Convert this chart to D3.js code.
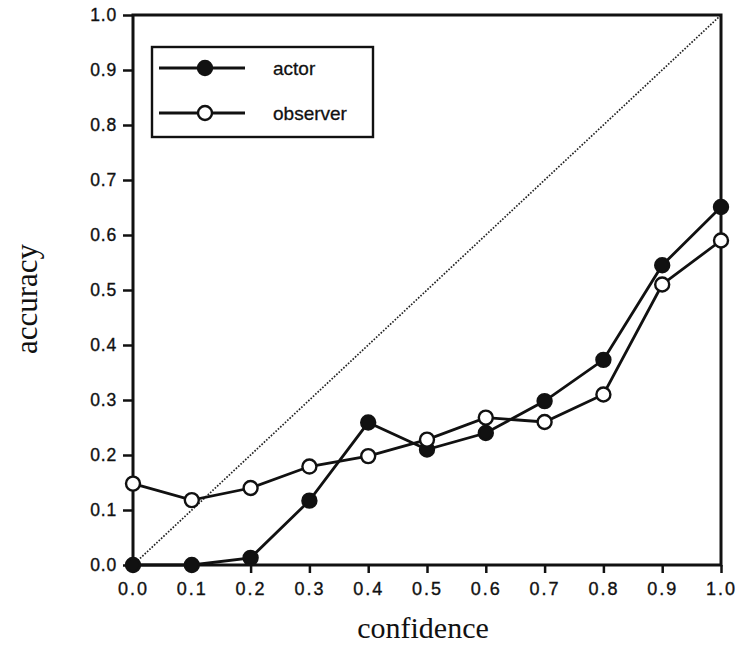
<!DOCTYPE html>
<html>
<head>
<meta charset="utf-8">
<script src="https://cdn.jsdelivr.net/npm/d3@7"></script>
<style>
  body { margin: 0; background: #fff; }
  svg { display: block; }
  .tick text { font-family: "Liberation Sans", Arial, sans-serif; fill: #111; stroke: #111; stroke-width: 0.35px; }
  .title { font-family: "Liberation Serif", "Times New Roman", serif; fill: #111; }
</style>
</head>
<body>
<div id="chart"></div>
<script>
// confidence bins and accuracy per group
var confidence = [0.0, 0.1, 0.2, 0.3, 0.4, 0.5, 0.6, 0.7, 0.8, 0.9, 1.0];
var actor      = [0.0, 0.0, 0.013, 0.117, 0.259, 0.21, 0.24, 0.298, 0.373, 0.545, 0.651];
var observer   = [0.148, 0.118, 0.14, 0.179, 0.198, 0.228, 0.268, 0.26, 0.31, 0.51, 0.59];
var tickVals   = [0, 0.1, 0.2, 0.3, 0.4, 0.5, 0.6, 0.7, 0.8, 0.9, 1.0];
var seriesNames = ['actor', 'observer'];

const W = 747, H = 646;
const x0 = 133, x1 = 721, yTop = 15, yBot = 565;

const svg = d3.select('#chart').append('svg')
  .attr('width', W).attr('height', H);

const x = d3.scaleLinear().domain([0, 1]).range([x0, x1]);
const y = d3.scaleLinear().domain([0, 1]).range([yBot, yTop]);

// diagonal reference (perfect calibration)
svg.append('line')
  .attr('x1', x(0)).attr('y1', y(0))
  .attr('x2', x(1)).attr('y2', y(1))
  .attr('stroke', '#222').attr('stroke-width', 1.7)
  .attr('stroke-dasharray', '1.6,1.6');

// axes
const xAxis = d3.axisBottom(x).tickValues(tickVals).tickFormat(d3.format('.1f'))
  .tickSize(8).tickPadding(9).tickSizeOuter(0);
const yAxis = d3.axisLeft(y).tickValues(tickVals).tickFormat(d3.format('.1f'))
  .tickSize(10).tickPadding(6).tickSizeOuter(0);

const gx = svg.append('g').attr('transform', 'translate(0,' + yBot + ')').call(xAxis);
gx.selectAll('text').style('font-size', '18px').style('letter-spacing', '2px');
const gy = svg.append('g').attr('transform', 'translate(' + x0 + ',0)').call(yAxis);
gy.selectAll('text').style('font-size', '17.5px').style('letter-spacing', '0.8px');
svg.selectAll('.domain').remove();
svg.selectAll('.tick line').attr('stroke', '#111').attr('stroke-width', 2.5);

// frame
svg.append('rect')
  .attr('x', x0).attr('y', yTop)
  .attr('width', x1 - x0).attr('height', yBot - yTop)
  .attr('fill', 'none').attr('stroke', '#111').attr('stroke-width', 3);

// series
const line = d3.line().x((d, i) => x(confidence[i])).y(d => y(d));
const series = [
  {name: seriesNames[0], values: actor, fill: '#111'},
  {name: seriesNames[1], values: observer, fill: '#fff'}
];

series.forEach(s => {
  svg.append('path').datum(s.values)
    .attr('d', line)
    .attr('fill', 'none').attr('stroke', '#111').attr('stroke-width', 2.8);
});
series.forEach(s => {
  svg.append('g').selectAll('circle')
    .data(s.values)
    .enter().append('circle')
    .attr('cx', (d, i) => x(confidence[i]))
    .attr('cy', d => y(d))
    .attr('r', 7)
    .attr('fill', s.fill).attr('stroke', '#111').attr('stroke-width', 2.4);
});

// legend
const lg = svg.append('g');
lg.append('rect')
  .attr('x', 152).attr('y', 47).attr('width', 221).attr('height', 90)
  .attr('fill', '#fff').attr('stroke', '#111').attr('stroke-width', 2.4);
series.forEach((s, i) => {
  const ly = 68 + i * 45;
  lg.append('line').attr('x1', 159).attr('x2', 245).attr('y1', ly).attr('y2', ly)
    .attr('stroke', '#111').attr('stroke-width', 2.8);
  lg.append('circle').attr('cx', 205).attr('cy', ly).attr('r', 7)
    .attr('fill', s.fill).attr('stroke', '#111').attr('stroke-width', 2.4);
  lg.append('text').attr('x', 273).attr('y', ly + 6.5)
    .style('font-family', '"Liberation Sans", Arial, sans-serif')
    .style('font-size', '19px').style('fill', '#111')
    .style('stroke', '#111').style('stroke-width', '0.3px')
    .text(s.name);
});

// axis titles
svg.append('text').attr('class', 'title')
  .attr('x', (x0 + x1) / 2 - 4).attr('y', 638)
  .attr('text-anchor', 'middle').style('font-size', '30px')
  .text('confidence');
svg.append('text').attr('class', 'title')
  .attr('transform', 'translate(37,299) rotate(-90)')
  .attr('text-anchor', 'middle').style('font-size', '31px')
  .text('accuracy');
</script>
</body>
</html>
